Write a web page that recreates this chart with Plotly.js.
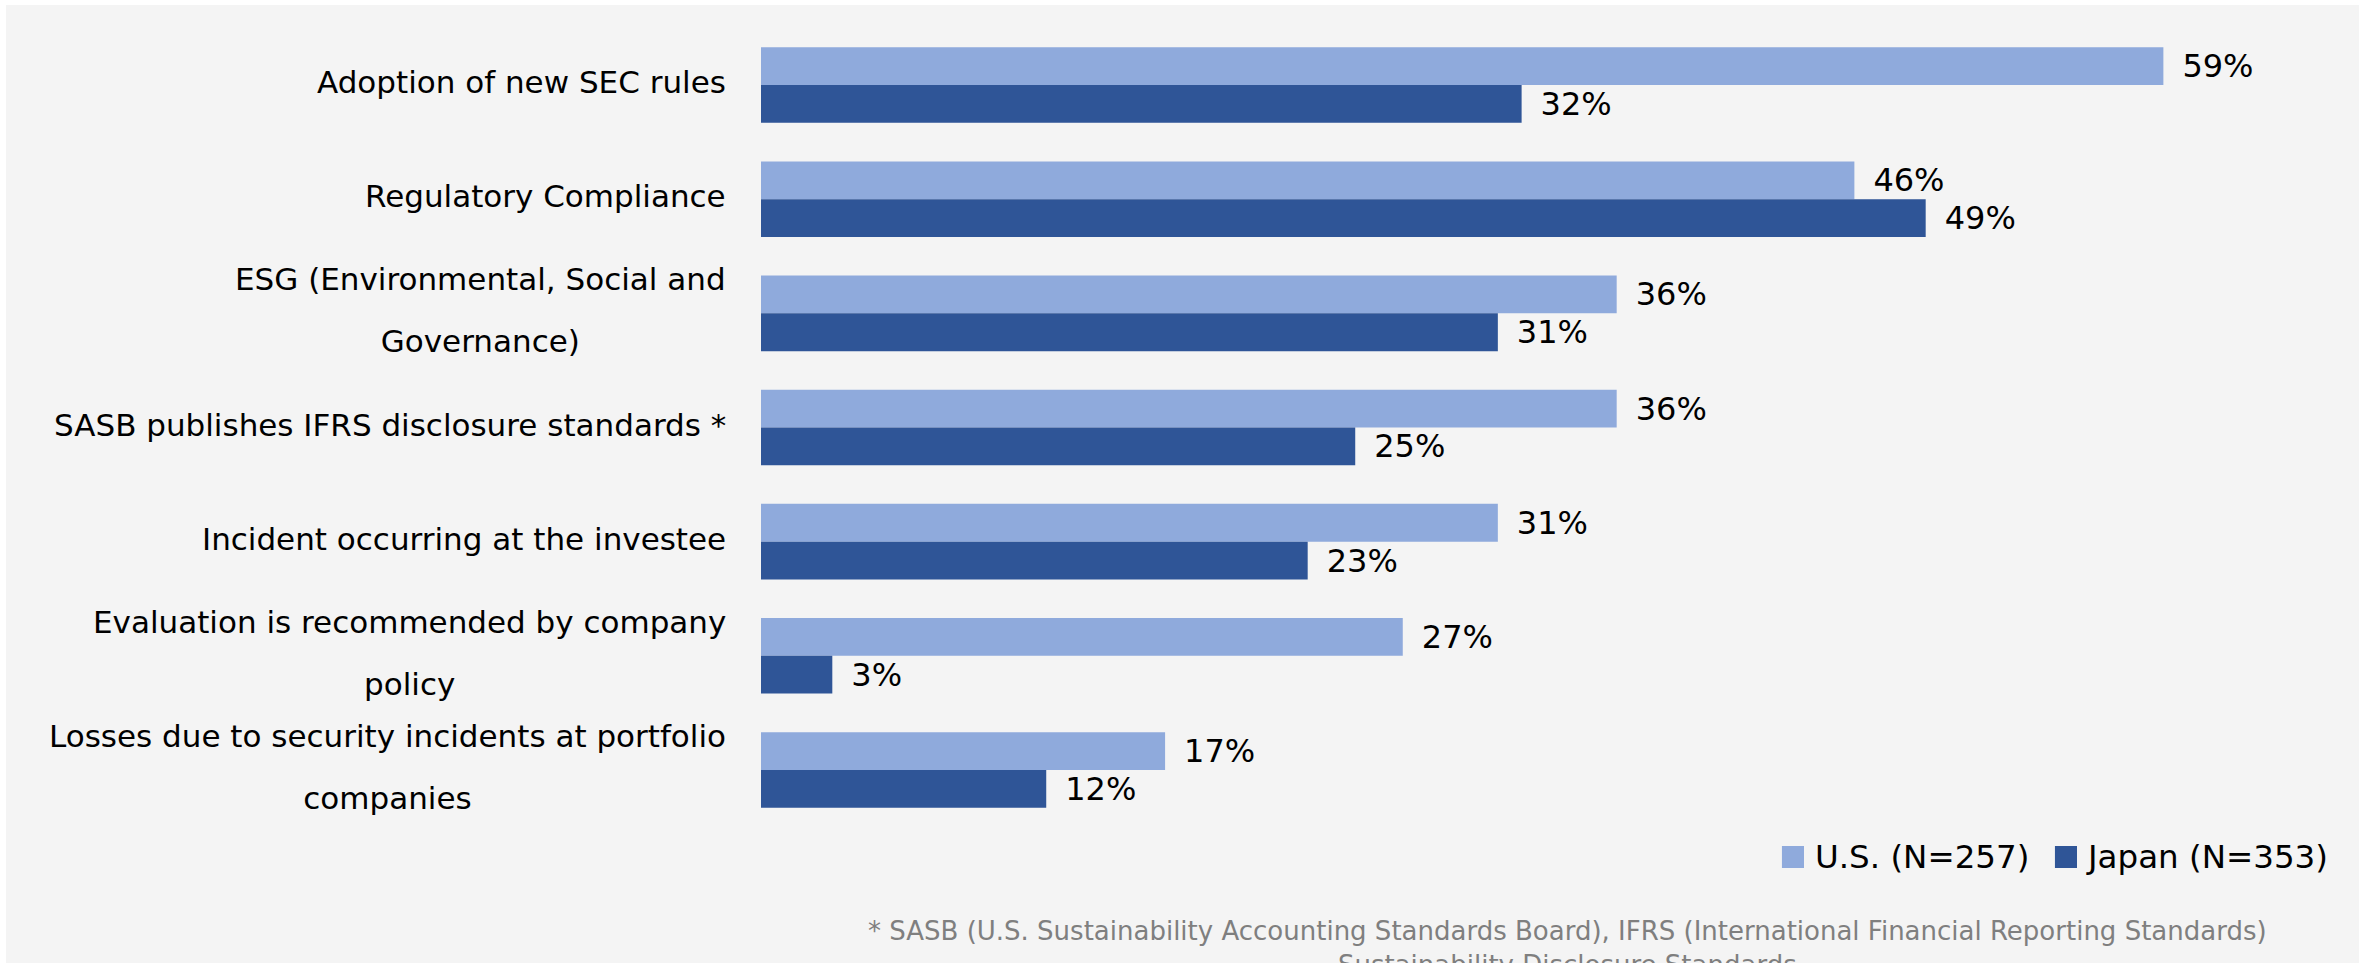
<!DOCTYPE html>
<html>
<head>
<meta charset="utf-8">
<script src="https://cdn.plot.ly/plotly-3.0.1.min.js"></script>
<style>
  html, body { margin: 0; padding: 0; background: #ffffff; }
  #chart { position: absolute; left: 6px; top: 5px; width: 2353px; height: 958px; }
</style>
</head>
<body>
<div id="chart"></div>
<script>
// ---- data ----
const categories = [
  "Adoption of new SEC rules",
  "Regulatory Compliance",
  "ESG (Environmental, Social and Governance)",
  "SASB publishes IFRS disclosure standards *",
  "Incident occurring at the investee",
  "Evaluation is recommended by company policy",
  "Losses due to security incidents at portfolio companies"
];
const categoryLabels = [
  ["Adoption of new SEC rules"],
  ["Regulatory Compliance"],
  ["ESG (Environmental, Social and", "Governance)"],
  ["SASB publishes IFRS disclosure standards *"],
  ["Incident occurring at the investee"],
  ["Evaluation is recommended by company", "policy"],
  ["Losses due to security incidents at portfolio", "companies"]
];
const usValues    = [59, 46, 36, 36, 31, 27, 17];
const japanValues = [32, 49, 31, 25, 23, 3, 12];
const seriesNames = ["U.S. (N=257)", "Japan (N=353)"];
const seriesColors = ["#8faadc", "#2f5597"];
const footnote = "* SASB (U.S. Sustainability Accounting Standards Board), IFRS (International Financial Reporting Standards)<br>Sustainability Disclosure Standards";

const FONT = "DejaVu Sans, Verdana, sans-serif";
const LABEL_SIZE = 31;

function barTrace(name, values, color) {
  return {
    type: "bar",
    orientation: "h",
    name: name,
    y: categories,
    x: values,
    marker: { color: color, line: { width: 0 } },
    text: values.map(v => "\u2002" + v + "%"),
    textposition: "outside",
    textfont: { family: FONT, size: 32, color: "#000000" },
    constraintext: "none",
    cliponaxis: false,
    hoverinfo: "skip",
    showlegend: false
  };
}

const traces = [
  barTrace(seriesNames[0], usValues, seriesColors[0]),
  barTrace(seriesNames[1], japanValues, seriesColors[1])
];

const annotations = categories.map((c, i) => {
  const lines = categoryLabels[i];
  const multi = lines.length > 1;
  return {
    xref: "paper", yref: "y",
    x: 0, y: c,
    xshift: -33, yshift: 3,
    xanchor: "right", yanchor: "middle",
    align: "center",
    showarrow: false,
    text: multi ? lines.map(s => '<span style="font-size:' + LABEL_SIZE + 'px">' + s + '</span>').join("<br>") : lines[0],
    font: { family: FONT, size: multi ? 48 : LABEL_SIZE, color: "#000000" }
  };
});

// legend (custom, square swatches)
const legendSwatchX = [[0.6608, 0.6751], [0.8375, 0.8518]];
const legendTextX = [0.6810, 0.8560];
const shapes = [];
seriesNames.forEach((n, i) => {
  shapes.push({
    type: "rect", xref: "paper", yref: "paper",
    x0: legendSwatchX[i][0], x1: legendSwatchX[i][1],
    y0: -0.0238, y1: -0.0513,
    fillcolor: seriesColors[i], line: { width: 0 }
  });
  annotations.push({
    xref: "paper", yref: "paper",
    x: legendTextX[i], y: -0.0378,
    xanchor: "left", yanchor: "middle",
    showarrow: false, text: n,
    font: { family: FONT, size: 32.5, color: "#000000" }
  });
});

annotations.push({
  xref: "paper", yref: "paper",
  x: 0.5217, y: -0.1514,
  xanchor: "center", yanchor: "middle",
  align: "center", showarrow: false,
  text: footnote,
  font: { family: FONT, size: 26, color: "#7f7f7f" }
});

const layout = {
  width: 2353, height: 958,
  margin: { l: 755, r: 53, t: 23, b: 136, pad: 0 },
  paper_bgcolor: "#f4f4f4",
  plot_bgcolor: "rgba(0,0,0,0)",
  barmode: "group",
  bargap: 0.338,
  bargroupgap: 0,
  showlegend: false,
  font: { family: FONT, color: "#000000" },
  xaxis: { range: [0, 65], visible: false, showgrid: false, zeroline: false, fixedrange: true },
  yaxis: { type: "category", autorange: "reversed", showticklabels: false, showgrid: false, zeroline: false, showline: false, ticks: "", fixedrange: true },
  annotations: annotations,
  shapes: shapes
};

Plotly.newPlot("chart", traces, layout, { displayModeBar: false, staticPlot: true });
</script>
</body>
</html>
